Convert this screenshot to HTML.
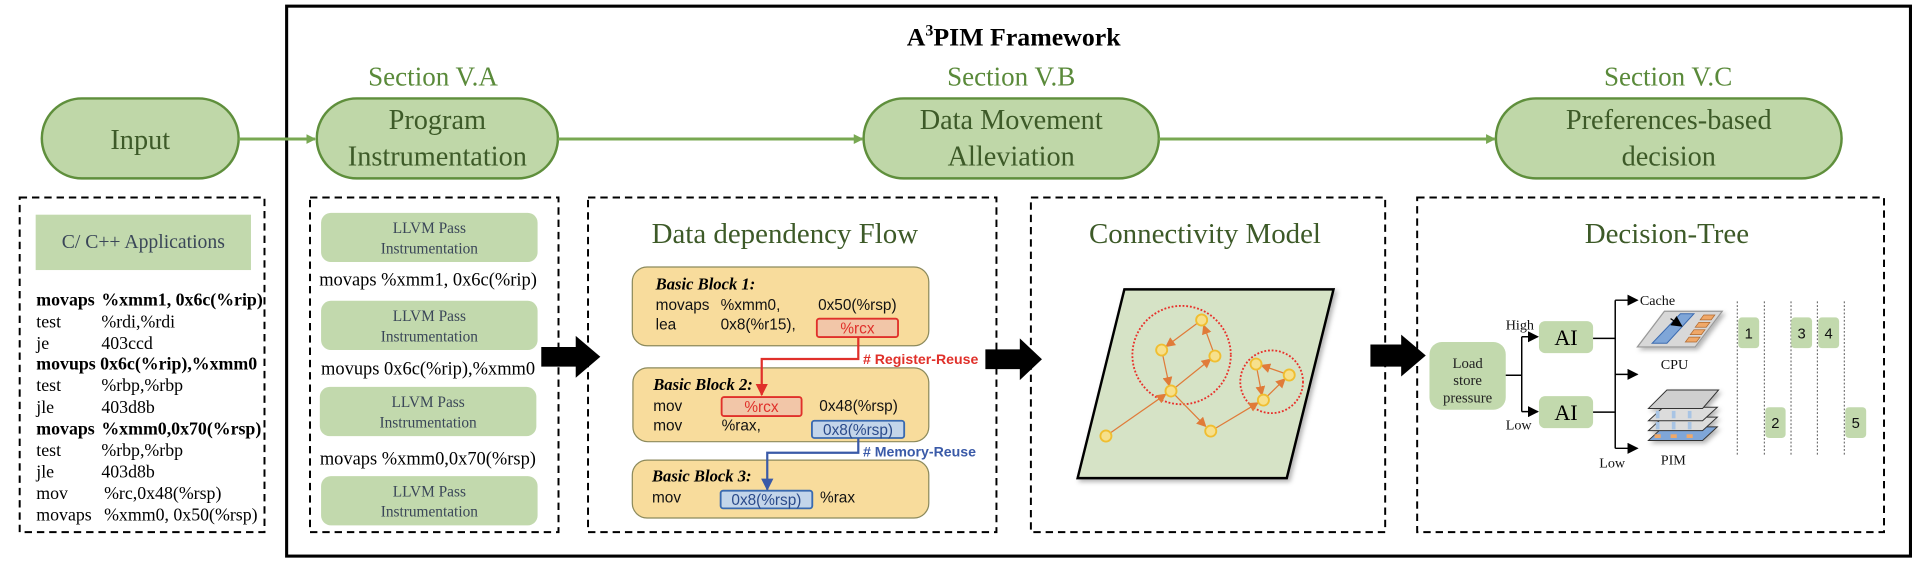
<!DOCTYPE html>
<html><head><meta charset="utf-8"><style>
html,body{margin:0;padding:0;background:#fff;}
svg{display:block;}
.sr{font-family:"Liberation Serif",serif;}
.ss{font-family:"Liberation Sans",sans-serif;}
</style></head><body>
<svg width="1924" height="570" viewBox="0 0 1564 463.3" preserveAspectRatio="none" xmlns="http://www.w3.org/2000/svg">
<defs>
<marker id="ga" markerWidth="8" markerHeight="8" refX="7" refY="4" orient="auto" markerUnits="userSpaceOnUse"><path d="M0,0 L8,4 L0,8 z" fill="#78a852"/></marker>
<marker id="ra" markerWidth="10" markerHeight="10" refX="9" refY="5" orient="auto" markerUnits="userSpaceOnUse"><path d="M0,0 L10,5 L0,10 z" fill="#e0302a"/></marker>
<marker id="ba" markerWidth="10" markerHeight="10" refX="9" refY="5" orient="auto" markerUnits="userSpaceOnUse"><path d="M0,0 L10,5 L0,10 z" fill="#3a5aa8"/></marker>
<marker id="ka" markerWidth="9" markerHeight="9" refX="8" refY="4.5" orient="auto" markerUnits="userSpaceOnUse"><path d="M0,0 L9,4.5 L0,9 z" fill="#000"/></marker>
<marker id="oa" markerWidth="8" markerHeight="8" refX="7" refY="4" orient="auto" markerUnits="userSpaceOnUse"><path d="M0,0 L8,4 L0,8 z" fill="#e07b39"/></marker>
<filter id="sh" x="-10%" y="-10%" width="130%" height="130%"><feDropShadow dx="2" dy="2" stdDeviation="2" flood-color="#000" flood-opacity="0.3"/></filter>
</defs>

<rect x="233" y="5" width="1320" height="447" fill="none" stroke="#000" stroke-width="2.5"/>
<text x="824" y="37" text-anchor="middle" class="sr" font-size="21" font-weight="bold">A<tspan font-size="13" dy="-8">3</tspan><tspan dy="8">PIM Framework</tspan></text>

<g class="sr" font-size="22" fill="#5a8a3a" text-anchor="middle">
<text x="352" y="69.5">Section V.A</text>
<text x="822" y="69.5">Section V.B</text>
<text x="1356" y="69.5">Section V.C</text>
</g>

<g fill="#bfd7a8" stroke="#5f8f3c" stroke-width="2">
<rect x="34" y="80" width="160" height="65" rx="32.5"/>
<rect x="257.5" y="80" width="196" height="65" rx="32.5"/>
<rect x="702" y="80" width="240" height="65" rx="32.5"/>
<rect x="1216" y="80" width="281" height="65" rx="32.5"/>
</g>
<g stroke="#78a852" stroke-width="2.5" marker-end="url(#ga)">
<line x1="194" y1="113" x2="256" y2="113"/>
<line x1="453.5" y1="113" x2="701" y2="113"/>
<line x1="942" y1="113" x2="1215" y2="113"/>
</g>
<g class="sr" font-size="23" fill="#3d5a28" text-anchor="middle">
<text x="114" y="121">Input</text>
<text x="355.5" y="105">Program</text>
<text x="355.5" y="134.5">Instrumentation</text>
<text x="822" y="105">Data Movement</text>
<text x="822" y="134.5">Alleviation</text>
<text x="1356.5" y="105">Preferences-based</text>
<text x="1356.5" y="134.5">decision</text>
</g>

<g fill="none" stroke="#000" stroke-width="1.6" stroke-dasharray="6,4">
<rect x="16" y="160.5" width="199" height="272"/>
<rect x="252" y="160.5" width="202" height="272"/>
<rect x="478" y="160.5" width="332" height="272"/>
<rect x="838" y="160.5" width="288" height="272"/>
<rect x="1152" y="160.5" width="379.5" height="272"/>
</g>

<rect x="29" y="174.5" width="175" height="45" fill="#c2d9ad"/>
<text x="116.5" y="201.5" text-anchor="middle" class="sr" font-size="16" fill="#3a4658">C/ C++ Applications</text>
<g class="sr" font-size="14.5">
<text x="29.5" y="248.5" font-weight="bold">movaps <tspan x="82.4">%xmm1, 0x6c(%rip)</tspan></text>
<text x="29.5" y="266">test<tspan x="82.4">%rdi,%rdi</tspan></text>
<text x="29.5" y="283.5">je<tspan x="82.4">403ccd</tspan></text>
<text x="29.5" y="300.5" font-weight="bold">movups 0x6c(%rip),%xmm0</text>
<text x="29.5" y="318">test<tspan x="82.4">%rbp,%rbp</tspan></text>
<text x="29.5" y="335.5">jle<tspan x="82.4">403d8b</tspan></text>
<text x="29.5" y="353" font-weight="bold">movaps <tspan x="82.4">%xmm0,0x70(%rsp)</tspan></text>
<text x="29.5" y="370.5">test<tspan x="82.4">%rbp,%rbp</tspan></text>
<text x="29.5" y="388">jle<tspan x="82.4">403d8b</tspan></text>
<text x="29.5" y="405.5">mov<tspan x="84.6">%rc,0x48(%rsp)</tspan></text>
<text x="29.5" y="423">movaps<tspan x="84.6">%xmm0, 0x50(%rsp)</tspan></text>
</g>

<g fill="#c2d9ad">
<rect x="261" y="173" width="176" height="40" rx="8"/>
<rect x="261" y="244.5" width="176" height="40" rx="8"/>
<rect x="260" y="314.5" width="176" height="40" rx="8"/>
<rect x="261" y="387" width="176" height="40" rx="8"/>
</g>
<g class="sr" font-size="12.5" fill="#3a4658" text-anchor="middle">
<text x="349" y="189.5">LLVM Pass</text><text x="349" y="206">Instrumentation</text>
<text x="349" y="261">LLVM Pass</text><text x="349" y="277.5">Instrumentation</text>
<text x="348" y="331">LLVM Pass</text><text x="348" y="347.5">Instrumentation</text>
<text x="349" y="403.5">LLVM Pass</text><text x="349" y="420">Instrumentation</text>
</g>
<g class="sr" font-size="15">
<text x="259.5" y="232">movaps %xmm1, 0x6c(%rip)</text>
<text x="261" y="304.5">movups 0x6c(%rip),%xmm0</text>
<text x="260" y="377.5">movaps %xmm0,0x70(%rsp)</text>
</g>

<g fill="#000">
<path d="M440,282 L468,282 L468,273 L488,290 L468,307 L468,298 L440,298 z"/>
<path d="M801,284 L829,284 L829,275 L847,292 L829,309 L829,300 L801,300 z"/>
<path d="M1114,280 L1139,280 L1139,272 L1159,289 L1139,306 L1139,298 L1114,298 z"/>
</g>

<text x="638" y="197.5" text-anchor="middle" class="sr" font-size="23.5" fill="#3d5a28">Data dependency Flow</text>
<g fill="#f8dc9c" stroke="#8c8a5c" stroke-width="1">
<rect x="514" y="217" width="241" height="64" rx="12"/>
<rect x="514.5" y="299" width="240.5" height="60" rx="12"/>
<rect x="514" y="374" width="241" height="47" rx="12"/>
</g>
<g class="sr" font-size="13.5" font-weight="bold" font-style="italic">
<text x="533" y="235.5">Basic Block 1:</text>
<text x="531" y="317">Basic Block 2:</text>
<text x="530" y="391.5">Basic Block 3:</text>
</g>
<rect x="664" y="259" width="66" height="15" fill="#f2c6a8" stroke="#e0302a" stroke-width="1.5" rx="2"/>
<rect x="586.6" y="322.7" width="65" height="15.5" fill="#f2c6a8" stroke="#e0302a" stroke-width="1.5" rx="2"/>
<rect x="660" y="342" width="75" height="14" fill="#c3d5ea" stroke="#3a6ab0" stroke-width="1.5" rx="2"/>
<rect x="585.8" y="398.8" width="74.5" height="14.4" fill="#c3d5ea" stroke="#3a6ab0" stroke-width="1.5" rx="2"/>
<g class="ss" font-size="12.5" fill="#111">
<text x="533" y="252">movaps</text><text x="585.8" y="252">%xmm0,</text><text x="665" y="252">0x50(%rsp)</text>
<text x="533" y="268">lea</text><text x="585.8" y="268">0x8(%r15),</text>
<text x="531" y="334">mov</text><text x="666" y="334">0x48(%rsp)</text>
<text x="531" y="350">mov</text><text x="586.6" y="350">%rax,</text>
<text x="530" y="408.6">mov</text><text x="666.6" y="408.6">%rax</text>
</g>
<g class="ss" font-size="12.5" text-anchor="middle">
<text x="697" y="271" fill="#e0302a">%rcx</text>
<text x="619" y="335" fill="#e0302a">%rcx</text>
<text x="697.5" y="353.5" fill="#2a4a8a">0x8(%rsp)</text>
<text x="623" y="410.5" fill="#2a4a8a">0x8(%rsp)</text>
</g>
<polyline points="697.7,274 697.7,291.8 619.2,291.8 619.2,321" fill="none" stroke="#e0302a" stroke-width="1.8" marker-end="url(#ra)"/>
<polyline points="697.7,356 697.7,368 623.7,368 623.7,398" fill="none" stroke="#3a5aa8" stroke-width="1.8" marker-end="url(#ba)"/>
<text x="701.5" y="296" class="ss" font-size="11.5" font-weight="bold" fill="#e0302a"># Register-Reuse</text>
<text x="701.5" y="371" class="ss" font-size="11.5" font-weight="bold" fill="#3a5aa8"># Memory-Reuse</text>

<text x="979.5" y="197.5" text-anchor="middle" class="sr" font-size="23.5" fill="#3d5a28">Connectivity Model</text>
<polygon points="914,235.2 1084,235.2 1046,388.6 876,388.6" fill="#d6e3c6" stroke="#000" stroke-width="2" filter="url(#sh)"/>
<circle cx="960.5" cy="288.6" r="40" fill="none" stroke="#e8302a" stroke-width="1.5" stroke-dasharray="1.5,1.5"/>
<circle cx="1033.7" cy="310.3" r="25.5" fill="none" stroke="#e8302a" stroke-width="1.5" stroke-dasharray="1.5,1.5"/>
<g stroke="#e07b39" stroke-width="1" marker-end="url(#oa)">
<line x1="976.8" y1="260.1" x2="948" y2="281.5"/>
<line x1="944.3" y1="284.5" x2="950.5" y2="313.5"/>
<line x1="951.9" y1="317.8" x2="984" y2="292"/>
<line x1="987.6" y1="289.4" x2="978.5" y2="264.5"/>
<line x1="899" y1="354.4" x2="947.5" y2="320.5"/>
<line x1="951.9" y1="317.8" x2="980" y2="346.5"/>
<line x1="984.2" y1="350.4" x2="1022.5" y2="327.5"/>
<line x1="1027" y1="325.2" x2="1044.5" y2="308"/>
<line x1="1048" y1="304.8" x2="1025.5" y2="297"/>
<line x1="1021" y1="295.9" x2="1025.8" y2="321"/>
</g>
<g fill="#f6e08c" stroke="#f0be30" stroke-width="1.5">
<circle cx="976.8" cy="260.1" r="4.5"/><circle cx="944.3" cy="284.5" r="4.5"/>
<circle cx="987.6" cy="289.4" r="4.5"/><circle cx="951.9" cy="317.8" r="4.5"/>
<circle cx="899" cy="354.4" r="4.5"/><circle cx="984.2" cy="350.4" r="4.5"/>
<circle cx="1021" cy="295.9" r="4.5"/><circle cx="1048" cy="304.8" r="4.5"/>
<circle cx="1027" cy="325.2" r="4.5"/>
</g>

<text x="1355" y="197.5" text-anchor="middle" class="sr" font-size="23.5" fill="#3d5a28">Decision-Tree</text>
<rect x="1162" y="278" width="62" height="55" rx="10" fill="#c2d9ad"/>
<g class="sr" font-size="12" text-anchor="middle" fill="#222">
<text x="1193" y="299">Load</text><text x="1193" y="313">store</text><text x="1193" y="327">pressure</text>
</g>
<rect x="1251" y="261" width="44" height="26" rx="5" fill="#c2d9ad"/>
<rect x="1251" y="322" width="44" height="26" rx="5" fill="#c2d9ad"/>
<g class="sr" font-size="18" text-anchor="middle"><text x="1273" y="280.5">AI</text><text x="1273" y="341.5">AI</text></g>
<g fill="none" stroke="#000" stroke-width="1.2">
<line x1="1224" y1="305" x2="1237" y2="305"/>
<line x1="1237" y1="273.7" x2="1237" y2="334.6"/>
<line x1="1237" y1="273.7" x2="1250" y2="273.7" marker-end="url(#ka)"/>
<line x1="1237" y1="334.6" x2="1250" y2="334.6" marker-end="url(#ka)"/>
<line x1="1295" y1="275" x2="1313" y2="275"/>
<line x1="1295" y1="335" x2="1313" y2="335"/>
<line x1="1313" y1="244" x2="1313" y2="364.4"/>
<line x1="1313" y1="244" x2="1331" y2="244" marker-end="url(#ka)"/>
<line x1="1313" y1="304.3" x2="1331" y2="304.3" marker-end="url(#ka)"/>
<line x1="1313" y1="364.4" x2="1331" y2="364.4" marker-end="url(#ka)"/>
</g>
<g class="sr" font-size="11.5" fill="#111">
<text x="1224" y="268">High</text><text x="1224" y="349">Low</text>
<text x="1333" y="248">Cache</text>
<text x="1350" y="300">CPU</text><text x="1350" y="377.5">PIM</text>
<text x="1300" y="380">Low</text>
</g>
<polygon points="1353,253 1400,253 1378,282 1331,282" fill="#d8d8d8" stroke="#999" stroke-width="1" filter="url(#sh)"/>
<polygon points="1366,255 1377,255 1355,279 1343,279" fill="#7fa6d8" stroke="#3a6ab0" stroke-width="0.8"/>
<g fill="#f0a868" stroke="#b06a30" stroke-width="0.6">
<polygon points="1385,256 1394,256 1391,260 1382,260"/>
<polygon points="1381,262 1390,262 1387,266 1378,266"/>
<polygon points="1377,268 1386,268 1383,272 1374,272"/>
<polygon points="1373,274 1382,274 1379,278 1370,278"/>
</g>
<line x1="1358" y1="259" x2="1367" y2="265" stroke="#000" stroke-width="1" marker-end="url(#ka)"/>
<g stroke="#333" stroke-width="0.8" filter="url(#sh)">
<polygon points="1340,358 1384,358 1396,347 1352,347" fill="#7fa6d8"/>
<polygon points="1340,350 1384,350 1396,339 1352,339" fill="#dcdcdc"/>
<polygon points="1340,342 1384,342 1396,331 1352,331" fill="#dcdcdc"/>
<polygon points="1340,332 1384,332 1397,317 1355,317" fill="#cfcfcf"/>
</g>
<g fill="#f0a868"><rect x="1345" y="353" width="5" height="3"/><rect x="1358" y="353" width="5" height="3"/><rect x="1371" y="353" width="5" height="3"/></g>
<g fill="#a8c4e4"><rect x="1346" y="334" width="3" height="6"/><rect x="1359" y="334" width="3" height="6"/><rect x="1372" y="334" width="3" height="6"/><rect x="1346" y="343" width="3" height="6"/><rect x="1359" y="343" width="3" height="6"/><rect x="1372" y="343" width="3" height="6"/></g>
<g stroke="#555" stroke-width="0.8" stroke-dasharray="1.5,1.5">
<line x1="1412.2" y1="245" x2="1412.2" y2="371"/>
<line x1="1434.2" y1="245" x2="1434.2" y2="371"/>
<line x1="1455.9" y1="245" x2="1455.9" y2="371"/>
<line x1="1477.3" y1="245" x2="1477.3" y2="371"/>
<line x1="1499.2" y1="245" x2="1499.2" y2="371"/>
</g>
<g fill="#c2d9ad">
<rect x="1413" y="258" width="17" height="25" rx="3"/>
<rect x="1456" y="258" width="17" height="25" rx="3"/>
<rect x="1478" y="258" width="17" height="25" rx="3"/>
<rect x="1435" y="331" width="16.5" height="25" rx="3"/>
<rect x="1500" y="331" width="17" height="25" rx="3"/>
</g>
<g class="ss" font-size="12" text-anchor="middle" fill="#111">
<text x="1421.5" y="275">1</text><text x="1464.5" y="275">3</text><text x="1486.5" y="275">4</text>
<text x="1443.2" y="348">2</text><text x="1508.5" y="348">5</text>
</g>
</svg>
</body></html>
